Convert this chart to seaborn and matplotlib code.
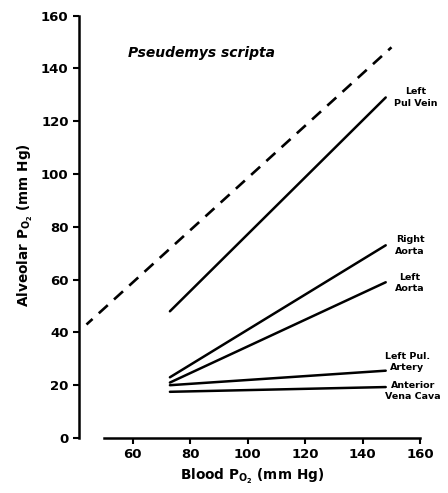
import matplotlib
matplotlib.use("Agg")
import matplotlib.pyplot as plt
import seaborn as sns

# values (blood PO2 vs alveolar PO2, mm Hg)
blood_po2 = [73, 148]
left_pul_vein = [48, 129]
right_aorta = [23, 73]
left_aorta = [21, 59]
left_pul_artery = [20, 25.5]
anterior_vena_cava = [17.5, 19.3]

# dashed line of equality
equal_x = [44, 150]
equal_y = [43, 148]

x_ticks = [60, 80, 100, 120, 140, 160]
y_ticks = [0, 20, 40, 60, 80, 100, 120, 140, 160]

sns.set_style("ticks")
plt.rcParams["font.family"] = ["DejaVu Sans"]
plt.rcParams["mathtext.default"] = "bf"
for key in ["text.color", "axes.labelcolor", "xtick.color", "ytick.color", "axes.edgecolor"]:
    plt.rcParams[key] = "black"

fig = plt.figure(figsize=(4.48, 4.93), dpi=100)
ax = fig.add_axes([79 / 448, 55 / 493, 347 / 448, 425 / 493])

sns.lineplot(x=equal_x, y=equal_y, color="black", linewidth=1.9,
             linestyle=(1.5, (4.6, 3.2)), ax=ax)
for series in [left_pul_vein, right_aorta, left_aorta, left_pul_artery, anterior_vena_cava]:
    sns.lineplot(x=blood_po2, y=series, color="black", linewidth=1.8, ax=ax)

ax.set_xlim(41.4, 162)
ax.set_ylim(0, 161)
ax.set_xticks(x_ticks)
ax.set_yticks(y_ticks)
ax.tick_params(labelsize=9.5, width=1.5, length=4, direction="out")
for lab in ax.get_xticklabels() + ax.get_yticklabels():
    lab.set_fontweight("bold")

ax.spines["right"].set_visible(False)
ax.spines["top"].set_visible(False)
ax.spines["left"].set_linewidth(1.8)
ax.spines["bottom"].set_linewidth(1.8)
ax.spines["bottom"].set_bounds(50, 160)
ax.spines["left"].set_bounds(0, 160)

ax.set_xlabel(r"Blood P$_{O_2}$ (mm Hg)", fontsize=9.8, fontweight="bold")
ax.set_ylabel(r"Alveolar P$_{O_2}$ (mm Hg)", fontsize=9.8, fontweight="bold")

ax.text(58.3, 145.8, "Pseudemys scripta", fontsize=10, fontweight="bold",
        fontstyle="italic", va="center", ha="left")

lbl = dict(fontsize=6.8, fontweight="bold", ha="center", va="center",
           linespacing=1.35, clip_on=False)
ax.text(158.5, 129, "Left\nPul Vein", **lbl)
ax.text(156.5, 73, "Right\nAorta", **lbl)
ax.text(156.5, 58.7, "Left\nAorta", **lbl)
ax.text(155.5, 28.8, "Left Pul.\nArtery", **lbl)
ax.text(157.5, 17.8, "Anterior\nVena Cava", **lbl)

fig.savefig("out.png", dpi=100)
